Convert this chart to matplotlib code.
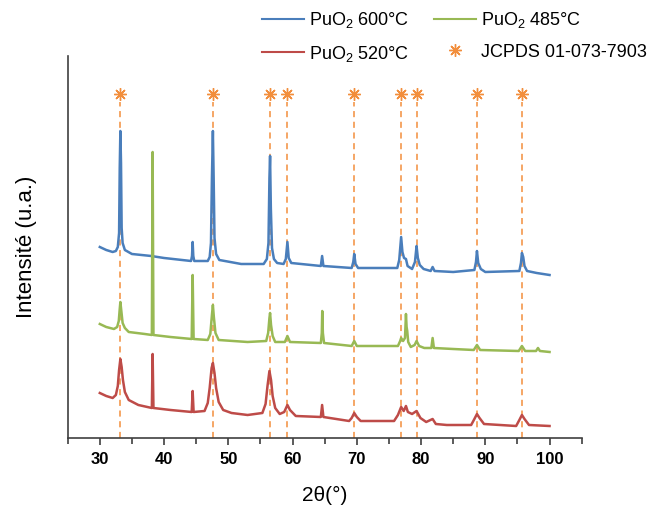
import matplotlib.pyplot as plt
from matplotlib.lines import Line2D
from matplotlib.ticker import MultipleLocator

# --- Diffractogrammes (2theta, intensité en u.a.) ---
PUO2_600 = [
    (30.0, 31), (31.0, 28), (32.0, 26), (32.5, 27), (32.8, 31), (33.0, 45),
    (33.1, 110), (33.2, 147), (33.3, 115), (33.4, 50), (33.55, 35), (33.9, 28),
    (35.0, 24), (38.0, 22), (40.0, 20), (44.2, 17), (44.35, 22), (44.45, 36),
    (44.55, 22), (44.7, 17), (46.8, 17), (47.1, 21), (47.3, 35), (47.45, 100),
    (47.6, 147), (47.72, 100), (47.85, 40), (48.1, 24), (48.6, 18), (52.0, 14),
    (55.5, 14), (56.0, 19), (56.25, 35), (56.4, 100), (56.5, 122), (56.62, 70),
    (56.8, 30), (57.1, 19), (57.6, 15), (58.6, 14), (58.95, 19), (59.2, 36),
    (59.4, 20), (59.8, 15), (64.4, 12), (64.6, 22), (64.8, 12), (69.2, 10),
    (69.45, 16), (69.6, 24), (69.8, 14), (70.2, 10), (76.3, 10), (76.6, 18),
    (76.9, 41), (77.1, 26), (77.35, 20), (77.65, 19), (77.9, 12), (78.6, 9),
    (79.05, 16), (79.3, 32), (79.5, 20), (79.8, 13), (80.4, 9), (81.5, 7),
    (81.8, 11), (82.1, 7), (85.0, 6), (88.3, 8), (88.55, 16), (88.7, 27),
    (88.9, 15), (89.3, 9), (90.0, 6), (95.3, 7), (95.55, 15), (95.7, 25),
    (95.9, 21), (96.1, 12), (96.5, 7), (98.0, 5), (100.0, 3),
]

PUO2_485 = [
    (30.0, 29), (31.0, 26), (32.2, 24), (32.7, 26), (32.95, 32), (33.1, 44),
    (33.2, 51), (33.35, 42), (33.55, 30), (33.9, 25), (34.5, 21), (37.0, 19),
    (38.1, 18), (38.22, 201), (38.35, 18), (41.0, 16), (44.3, 14), (44.45, 78),
    (44.6, 14), (46.8, 13), (47.2, 19), (47.45, 38), (47.6, 48), (47.75, 36),
    (48.0, 20), (48.5, 13), (53.0, 11), (55.9, 12), (56.2, 20), (56.4, 35),
    (56.5, 40), (56.65, 28), (56.9, 17), (57.3, 11), (58.8, 11), (59.2, 17),
    (59.6, 11), (64.4, 10), (64.55, 20), (64.62, 42), (64.72, 20), (64.9, 10),
    (69.2, 7), (69.6, 12), (70.0, 7), (76.4, 7), (76.75, 12), (76.9, 15),
    (77.2, 12), (77.5, 15), (77.65, 39), (77.75, 26), (77.85, 22), (78.0, 11),
    (78.4, 6), (79.0, 8), (79.3, 12), (79.7, 7), (80.5, 5), (81.6, 5),
    (81.8, 15), (82.0, 5), (85.0, 4), (88.2, 3), (88.7, 8), (89.2, 3),
    (95.2, 2), (95.7, 7), (96.2, 2), (97.9, 2), (98.2, 5), (98.5, 2),
    (100.0, 1),
]

PUO2_520 = [
    (30.0, 35), (31.0, 32), (32.0, 30), (32.5, 33), (32.8, 42), (33.0, 58),
    (33.2, 69), (33.4, 61), (33.6, 48), (33.9, 36), (34.5, 28), (36.0, 23),
    (38.1, 20), (38.22, 74), (38.35, 20), (41.0, 18), (44.3, 16), (44.45, 37),
    (44.6, 16), (46.3, 17), (46.8, 25), (47.1, 40), (47.4, 60), (47.6, 65),
    (47.85, 55), (48.1, 40), (48.5, 26), (49.2, 18), (50.5, 15), (53.0, 13),
    (55.3, 15), (55.8, 24), (56.1, 42), (56.4, 57), (56.65, 48), (56.9, 32),
    (57.3, 20), (58.0, 14), (58.7, 16), (59.2, 23), (59.6, 18), (60.5, 12),
    (64.4, 11), (64.6, 23), (64.8, 11), (68.8, 7), (69.2, 10), (69.6, 15),
    (70.0, 11), (70.6, 7), (75.8, 7), (76.4, 13), (76.9, 21), (77.3, 17),
    (77.65, 22), (77.95, 16), (78.6, 14), (79.3, 17), (79.9, 10), (80.8, 6),
    (81.8, 9), (82.3, 4), (84.0, 3), (87.8, 3), (88.3, 9), (88.7, 14),
    (89.1, 10), (89.8, 4), (94.8, 2), (95.3, 8), (95.7, 13), (96.1, 9),
    (96.8, 3), (100.0, 2),
]

# positions des raies de référence JCPDS 01-073-7903
JCPDS_POS = [33.2, 47.6, 56.5, 59.2, 69.6, 76.9, 79.3, 88.7, 95.75]

# --- Styles ---
BLUE = "#4a7ebb"
GREEN = "#98b954"
RED = "#be4b48"
ORANGE = "#f28e3c"
AXIS = "#404040"

# décalage vertical de chaque courbe
OFFSET = {"600": 160, "485": 85, "520": 10}
STAR_Y = 344

plt.rcParams["font.family"] = ["Liberation Sans", "DejaVu Sans"]
plt.rcParams["mathtext.default"] = "regular"

fig = plt.figure(figsize=(6.61, 5.09), dpi=100)
ax = fig.add_axes([0.1024, 0.1395, 0.7776, 0.7505])

# raies de référence
for x in JCPDS_POS:
    ax.plot([x, x], [0, STAR_Y - 8], ls=(0, (4, 3)), color=ORANGE, lw=1.1, zorder=1)
ax.plot(JCPDS_POS, [STAR_Y] * len(JCPDS_POS), ls="none", marker=(8, 2, 0),
        ms=9, mew=1.0, color=ORANGE, zorder=3)

series = [
    (PUO2_600, "600", BLUE),
    (PUO2_485, "485", GREEN),
    (PUO2_520, "520", RED),
]
for data, key, col in series:
    xs = [p[0] for p in data]
    ys = [p[1] + OFFSET[key] for p in data]
    ax.plot(xs, ys, color=col, lw=1.8, solid_joinstyle="round", zorder=2)

ax.set_xlim(25, 105)
ax.set_ylim(0, 382)
ax.xaxis.set_major_locator(MultipleLocator(10))
ax.xaxis.set_minor_locator(MultipleLocator(5))
ax.set_yticks([])
ax.tick_params(axis="x", which="major", direction="out", length=5, width=1.2,
               color=AXIS, pad=5, labelsize=12)
ax.tick_params(axis="x", which="minor", direction="out", length=4, width=1.2,
               color=AXIS)
for lab in ax.get_xticklabels():
    lab.set_fontweight("bold")
for s in ("top", "right"):
    ax.spines[s].set_visible(False)
for s in ("left", "bottom"):
    ax.spines[s].set_color(AXIS)
    ax.spines[s].set_linewidth(1.2)

ax.set_xlabel("2θ(°)", fontsize=15, labelpad=14)
ax.set_ylabel("Intensité (u.a.)", fontsize=16, labelpad=22)

handles = [
    Line2D([], [], color=BLUE, lw=1.5),
    Line2D([], [], color=RED, lw=1.5),
    Line2D([], [], color=GREEN, lw=1.5),
    Line2D([], [], ls="none", marker=(8, 2, 0), ms=9, mew=1.0, color=ORANGE),
]
labels = ["PuO$_2$ 600°C", "PuO$_2$ 520°C", "PuO$_2$ 485°C", "JCPDS 01-073-7903"]
fig.legend(handles, labels, loc="upper left", bbox_to_anchor=(262 / 661, 1 - 10 / 509),
           ncol=2, frameon=False, fontsize=13, handlelength=2.3, handletextpad=0.3,
           columnspacing=1.4, labelspacing=0.75, borderpad=0, borderaxespad=0)

fig.savefig("out.png", dpi=100)
